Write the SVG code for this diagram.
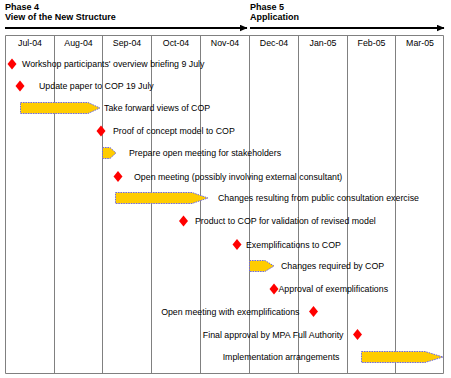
<svg xmlns="http://www.w3.org/2000/svg" width="451" height="378" viewBox="0 0 451 378">
<style>
text{font-family:"Liberation Sans",Arial,sans-serif;font-size:8.8px;fill:#000}
.ph{font-weight:bold;font-size:9px}
.mo{text-anchor:middle}
.end{text-anchor:end}
.grid{stroke:#808080;stroke-width:1;fill:none}
.bar{fill:#FFCC00;stroke:#6666ee;stroke-width:1;stroke-dasharray:1.5,1}
.ms{fill:#FF0000}
.arr{stroke:#000;stroke-width:2;fill:none}
</style>
<defs>
<polygon id="dia" points="0,-5.5 4.5,0 0,5.5 -4.5,0"/>
<marker id="ah" markerWidth="8" markerHeight="7" refX="7.5" refY="3.5" orient="auto" markerUnits="userSpaceOnUse">
<polygon points="0,0 8,3.5 0,7" fill="#000"/>
</marker>
</defs>
<rect width="451" height="378" fill="#fff"/>
<g id="header">
<text class="ph" x="5" y="9.5">Phase 4</text>
<text class="ph" x="5" y="19.5">View of the New Structure</text>
<text class="ph" x="250" y="9.5">Phase 5</text>
<text class="ph" x="250" y="19.5">Application</text>
</g>
<g id="connectors">
<line class="arr" x1="5" y1="28" x2="247" y2="28" marker-end="url(#ah)"/>
<line class="arr" x1="250" y1="28" x2="444" y2="28" marker-end="url(#ah)"/>
</g>
<g id="grid">
<path class="grid" d="M5.5,35.5 H443.5 V373.5 H5.5 Z M54.5,35.5 V373.5 M102.5,35.5 V373.5 M151.5,35.5 V373.5 M200.5,35.5 V373.5 M249.5,35.5 V373.5 M298.5,35.5 V373.5 M347.5,35.5 V373.5 M395.5,35.5 V373.5"/>
<text class="mo" x="30" y="46">Jul-04</text>
<text class="mo" x="78.5" y="46">Aug-04</text>
<text class="mo" x="127" y="46">Sep-04</text>
<text class="mo" x="176" y="46">Oct-04</text>
<text class="mo" x="225" y="46">Nov-04</text>
<text class="mo" x="274" y="46">Dec-04</text>
<text class="mo" x="323" y="46">Jan-05</text>
<text class="mo" x="371.5" y="46">Feb-05</text>
<text class="mo" x="420" y="46">Mar-05</text>
</g>
<g id="t1"><use href="#dia" class="ms" x="12" y="64"/><text x="22" y="67">Workshop participants' overview briefing 9 July</text></g>
<g id="t2"><use href="#dia" class="ms" x="20" y="86"/><text x="39" y="89">Update paper to COP 19 July</text></g>
<g id="t3"><path class="bar" d="M20.5,102.5 H88 L100,108 L88,113.5 H20.5 Z"/><text x="104" y="111">Take forward views of COP</text></g>
<g id="t4"><use href="#dia" class="ms" x="101" y="131"/><text x="113" y="134">Proof of concept model to COP</text></g>
<g id="t5"><path class="bar" d="M102.5,147.5 H110 L116,153 L110,158.5 H102.5 Z"/><text x="129" y="156">Prepare open meeting for stakeholders</text></g>
<g id="t6"><use href="#dia" class="ms" x="118" y="176.5"/><text x="134" y="179.5">Open meeting (possibly involving external consultant)</text></g>
<g id="t7"><path class="bar" d="M115.5,192.5 H192 L208,198 L192,203.5 H115.5 Z"/><text x="218" y="201">Changes resulting from public consultation exercise</text></g>
<g id="t8"><use href="#dia" class="ms" x="183.5" y="221"/><text x="195" y="224">Product to COP for validation of revised model</text></g>
<g id="t9"><use href="#dia" class="ms" x="237" y="244.5"/><text x="246" y="247.5">Exemplifications to COP</text></g>
<g id="t10"><path class="bar" d="M249.5,260.5 H265 L274,266 L265,271.5 H249.5 Z"/><text x="281" y="269">Changes required by COP</text></g>
<g id="t11"><use href="#dia" class="ms" x="274" y="289"/><text x="278.5" y="292">Approval of exemplifications</text></g>
<g id="t12"><use href="#dia" class="ms" x="313.5" y="311.5"/><text class="end" x="299.5" y="314.5">Open meeting with exemplifications</text></g>
<g id="t13"><use href="#dia" class="ms" x="357.5" y="334.5"/><text class="end" x="343.5" y="337.5">Final approval by MPA Full Authority</text></g>
<g id="t14"><path class="bar" d="M361.5,351.5 H425 L443,357 L425,362.5 H361.5 Z"/><text class="end" x="339.5" y="360">Implementation arrangements</text></g>
</svg>
